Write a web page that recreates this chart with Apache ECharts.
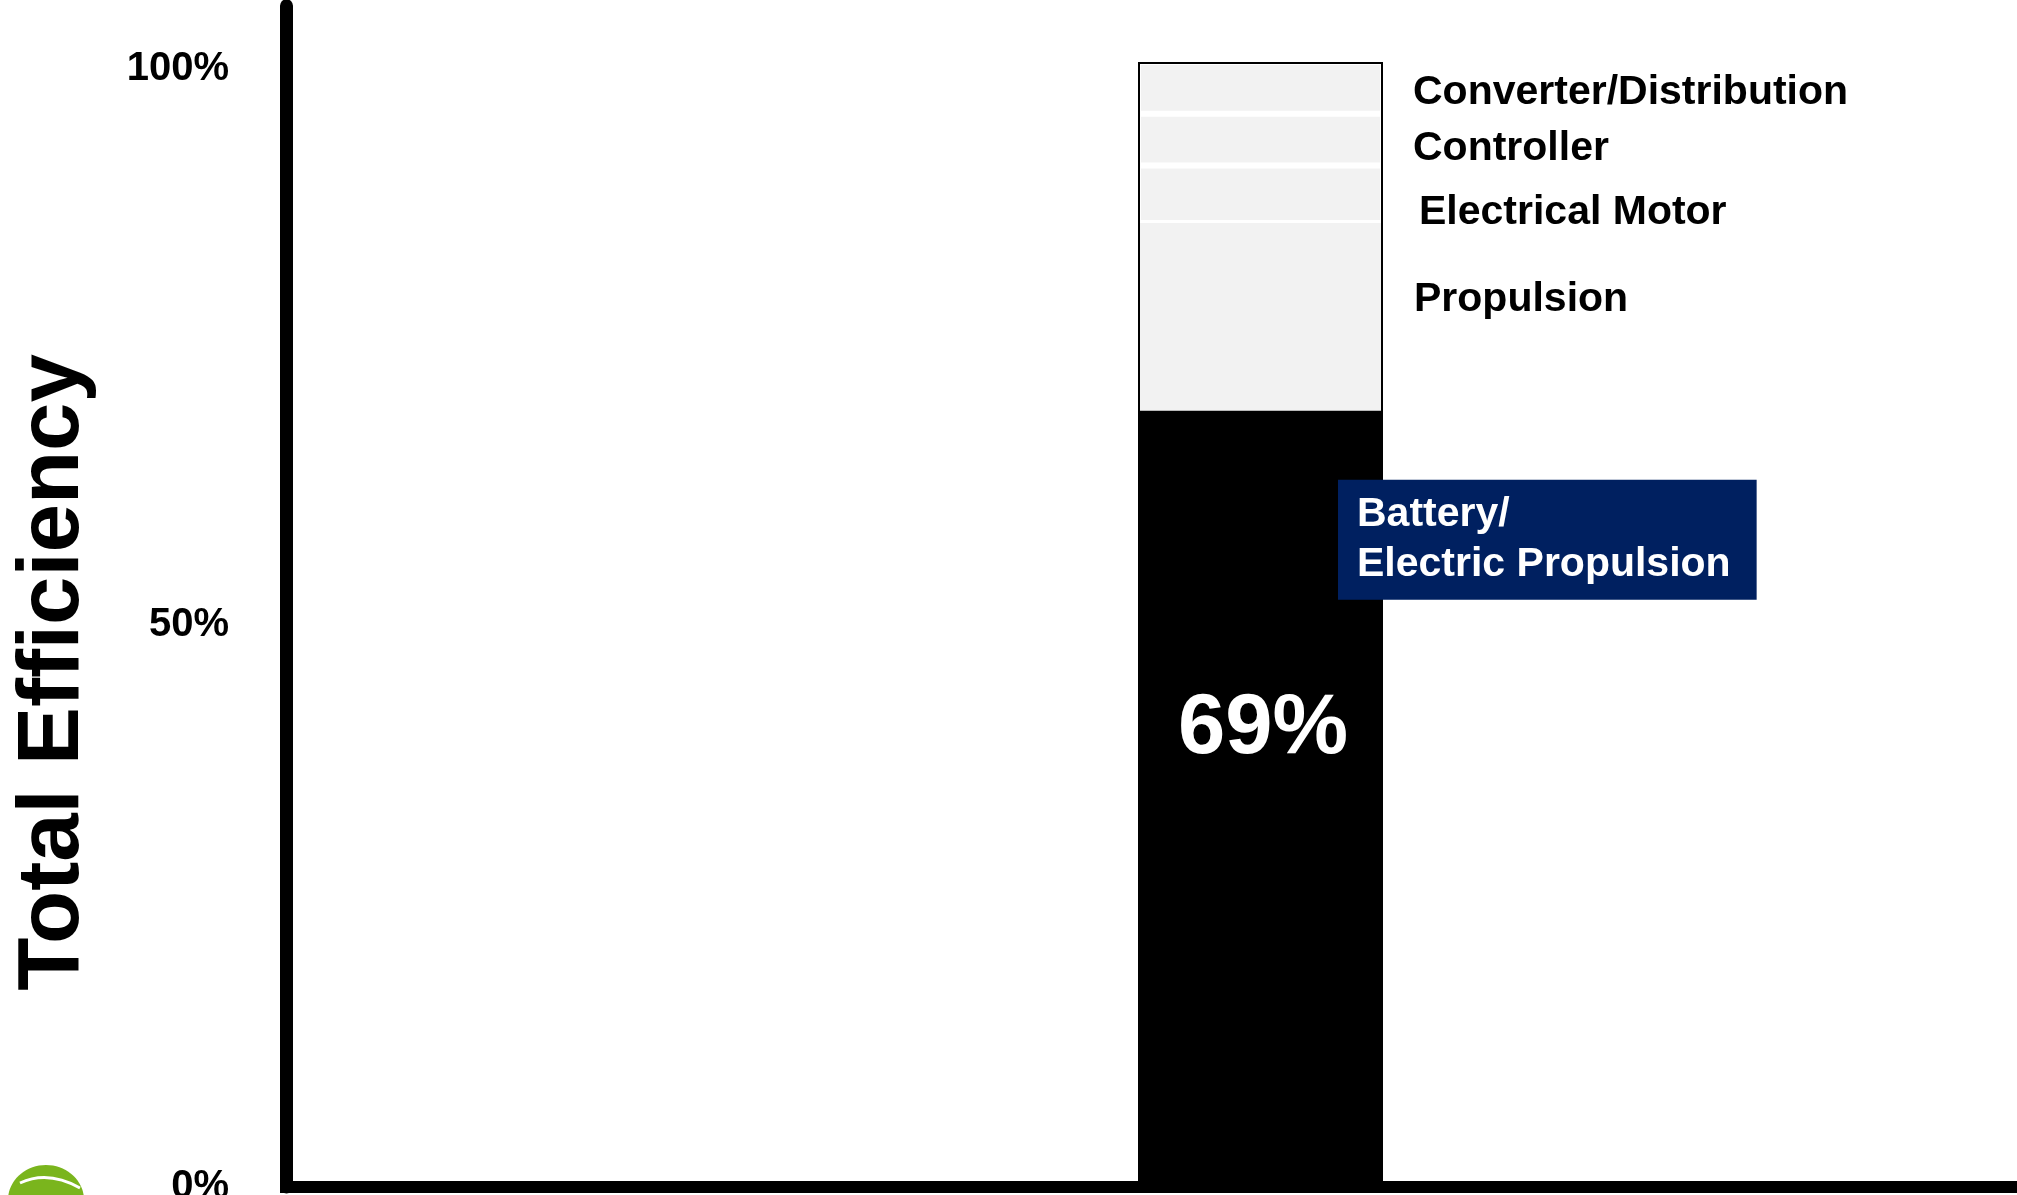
<!DOCTYPE html>
<html>
<head>
<meta charset="utf-8">
<title>Total Efficiency</title>
<script src="https://cdn.jsdelivr.net/npm/echarts@6/dist/echarts.min.js"></script>
<style>
  html, body { margin: 0; padding: 0; background: #ffffff; }
  #chart { width: 2017px; height: 1195px; }
</style>
</head>
<body>
<div id="chart"></div>
<script>
// Efficiency chain of a battery / electric drive, in percent of input energy
const categories = ['Battery/Electric Propulsion'];
const batteryEfficiency = [69];   // what is left at the propeller
const propulsionLoss = [16.7];
const motorLoss = [5.1];
const controllerLoss = [4.6];
const converterLoss = [4.6];
const yTickValues = [0, 50, 100];

const totals = categories.map((_, i) =>
  batteryEfficiency[i] + propulsionLoss[i] + motorLoss[i] + controllerLoss[i] + converterLoss[i]);

const FONT = "'Liberation Sans', Arial, Helvetica, sans-serif";
const GREY = '#f2f2f2';
const NAVY = '#002060';
const BAR_W = 245;

function lossSeries(name, data, offset, separator) {
  return {
    name: name,
    type: 'bar',
    stack: 'chain',
    data: data,
    barWidth: BAR_W,
    barGap: '-100%',
    z: 2,
    silent: true,
    itemStyle: { color: GREY, borderColor: '#ffffff', borderWidth: separator ? 3 : 0 },
    label: {
      show: true,
      position: 'right',
      distance: 30,
      offset: offset,
      formatter: '{a}',
      color: '#000000',
      fontFamily: FONT,
      fontWeight: 'bold',
      fontSize: 41
    }
  };
}

const chart = echarts.init(document.getElementById('chart'), null, { renderer: 'canvas' });

chart.setOption({
  animation: false,
  backgroundColor: '#ffffff',
  // the plot area runs past the right edge so the single bar sits right of centre
  grid: { left: 286, right: -218, top: 5.75, bottom: 8, containLabel: false, outerBoundsMode: 'none' },
  xAxis: {
    type: 'category',
    data: categories,
    axisLine: { show: true, lineStyle: { color: '#000000', width: 12, cap: 'square' } },
    axisTick: { show: false },
    axisLabel: { show: false },
    splitLine: { show: false }
  },
  yAxis: {
    type: 'value',
    min: 0,
    max: 105,
    interval: 50,
    axisLine: { show: true, lineStyle: { color: '#000000', width: 13 } },
    axisTick: { show: false },
    splitLine: { show: false },
    axisLabel: {
      showMaxLabel: false,
      formatter: v => {
        if (!yTickValues.includes(v)) return '';
        return v === yTickValues[yTickValues.length - 1] ? '{top|' + v + '%}' : v + '%';
      },
      rich: {
        top: { padding: [14, 0, 0, 0], color: '#000000', fontFamily: FONT, fontWeight: 'bold', fontSize: 40 }
      },
      margin: 57,
      color: '#000000',
      fontFamily: FONT,
      fontWeight: 'bold',
      fontSize: 40
    },
    name: 'Total Efficiency',
    nameLocation: 'middle',
    nameGap: 188,
    nameTextStyle: {
      color: '#000000',
      fontFamily: FONT,
      fontWeight: 'bold',
      fontSize: 87,
      padding: [0, 152, 0, 0]
    }
  },
  series: [
    {
      name: categories[0],
      type: 'bar',
      stack: 'chain',
      data: batteryEfficiency,
      barWidth: BAR_W,
      barGap: '-100%',
      z: 4,
      silent: true,
      itemStyle: { color: '#000000' },
      label: {
        show: true,
        position: ['51%', '41.1%'],
        align: 'center',
        verticalAlign: 'middle',
        formatter: '{c}%',
        color: '#ffffff',
        fontFamily: FONT,
        fontWeight: 'bold',
        fontSize: 85
      },
      markPoint: {
        symbol: 'rect',
        symbolSize: 0,
        silent: true,
        data: [{ coord: [categories[0], batteryEfficiency[0]] }],
        label: {
          show: true,
          position: [77.5, 69],
          align: 'left',
          verticalAlign: 'top',
          formatter: () => categories[0].replace('/', '/\n'),
          backgroundColor: NAVY,
          color: '#ffffff',
          padding: [10, 26, 10, 19],
          lineHeight: 50,
          fontFamily: FONT,
          fontWeight: 'bold',
          fontSize: 41
        }
      }
    },
    lossSeries('Propulsion', propulsionLoss, [1, -17], false),
    lossSeries('Electrical Motor', motorLoss, [6, 18], true),
    lossSeries('Controller', controllerLoss, [0, 9], true),
    lossSeries('Converter/Distribution', converterLoss, [0, 5], true),
    {
      name: 'Input energy',
      type: 'bar',
      data: totals,
      barWidth: BAR_W,
      barGap: '-100%',
      z: 3,
      silent: true,
      itemStyle: { color: 'rgba(0,0,0,0)', borderColor: '#000000', borderWidth: 2 }
    }
  ],
  graphic: [
    {
      type: 'ellipse',
      silent: true,
      shape: { cx: 46, cy: 1200, rx: 38, ry: 35 },
      style: { fill: '#7ab51d' }
    },
    {
      type: 'bezierCurve',
      silent: true,
      shape: { x1: 20, y1: 1183, cpx1: 48, cpy1: 1170, x2: 80, y2: 1188 },
      style: { stroke: '#ffffff', lineWidth: 3, fill: null }
    }
  ]
});
</script>
</body>
</html>
